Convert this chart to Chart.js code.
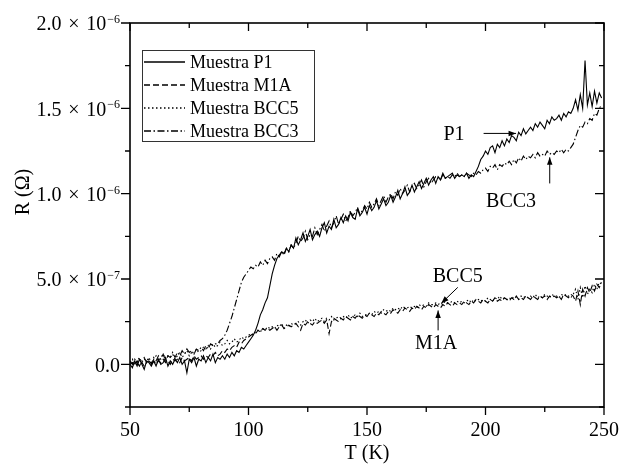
<!DOCTYPE html>
<html>
<head>
<meta charset="utf-8">
<script src="https://cdn.jsdelivr.net/npm/chart.js@4"></script>
<style>
  html, body { margin: 0; padding: 0; background: #fff; }
  #wrap { width: 623px; height: 471px; }
</style>
</head>
<body>
<div id="wrap"><canvas id="myChart" width="623" height="471"></canvas></div>
<script>
// temperature (K)
const temps = [
  50,51,52,53,54,55,56,57,58,59, 60,61,62,63,64,65,66,67,68,69,
  70,71,72,73,74,75,76,77,78,79, 80,81,82,83,84,85,86,87,88,89,
  90,91,92,93,94,95,96,97,98,99, 100,101,102,103,104,105,106,107,108,109,
  110,111,112,113,114,115,116,117,118,119, 120,121,122,123,124,125,126,127,128,129,
  130,131,132,133,134,135,136,137,138,139, 140,141,142,143,144,145,146,147,148,149,
  150,151,152,153,154,155,156,157,158,159, 160,161,162,163,164,165,166,167,168,169,
  170,171,172,173,174,175,176,177,178,179, 180,181,182,183,184,185,186,187,188,189,
  190,191,192,193,194,195,196,197,198,199, 200,201,202,203,204,205,206,207,208,209,
  210,211,212,213,214,215,216,217,218,219, 220,221,222,223,224,225,226,227,228,229,
  230,231,232,233,234,235,236,237,238,239, 240,241,242,243,244,245,246,247,248,249];

// resistance, in units of 1e-8 Ohm
const rP1 = [
  0,-2,2,-1,3,0,-3,2,1,-1, 2,-1,3,0,1,4,-1,2,0,3,
  1,4,0,2,-5,3,1,4,-1,3, 2,5,1,4,2,6,1,4,3,5,
  3,6,4,7,5,8,7,10,9,11, 13,15,17,20,24,29,32,36,39,46,
  53,58,62,64,66,65,68,66,70,68, 74,70,73,77,72,75,79,73,76,78,
  75,80,83,77,81,79,85,80,82,86, 83,87,84,89,86,85,91,87,89,92,
  88,93,90,92,96,91,94,97,93,95, 99,95,98,102,97,100,104,99,101,105,
  101,104,107,103,106,109,105,108,110,106, 110,108,112,109,110,111,112,109,111,110,
  111,110,112,109,111,110,113,116,120,122, 125,123,127,128,124,129,127,131,128,132,
  130,134,133,131,136,134,138,135,137,139, 137,141,139,142,140,138,143,141,145,143,
  144,146,143,147,145,148,147,150,155,149, 158,150,178,152,159,151,160,153,159,156];

const rM1A = [
  0,1,-1,2,0,1,-1,1,2,0, 2,0,2,1,3,1,2,0,3,2,
  3,1,4,2,3,4,2,5,3,4, 5,3,5,4,6,5,7,5,6,8,
  7,9,8,10,11,10,13,12,14,15, 16,17,18,18,20,19,21,20,21,20,
  21,22,20,22,23,21,22,23,22,23, 24,22,20,24,23,25,24,23,25,24,
  25,26,24,26,18,25,27,26,25,27, 26,28,27,26,28,27,29,28,27,29,
  28,30,29,28,30,29,31,30,29,31, 30,32,31,30,32,31,33,32,31,33,
  32,34,33,32,34,33,35,34,33,35, 34,33,35,34,36,35,34,36,35,36,
  35,37,36,35,37,36,38,37,36,38, 37,36,38,37,39,37,38,37,39,38,
  37,39,38,40,38,39,38,40,39,38, 40,39,38,40,39,40,38,40,39,40,
  39,40,38,41,40,39,41,40,37,43, 35,44,40,45,42,46,43,47,45,48];

const rBCC5 = [
  1,3,0,2,4,1,3,2,4,1, 3,5,2,4,6,3,5,4,6,3,
  5,7,4,6,8,5,7,6,9,7, 8,10,9,11,9,12,10,11,13,11,
  12,14,12,13,15,13,14,16,15,16, 17,18,17,19,20,19,21,20,22,21,
  22,21,23,22,24,21,23,22,24,23, 24,25,23,25,26,24,26,25,27,25,
  26,27,25,27,26,28,26,27,28,27, 28,27,29,27,28,29,28,30,28,29,
  29,30,29,31,30,31,30,32,31,32, 31,33,32,33,32,34,33,33,34,33,
  34,33,35,34,35,34,36,35,35,36, 35,36,35,37,36,36,37,36,37,36,
  37,36,37,38,36,38,37,38,37,38, 37,39,38,37,39,38,40,38,39,38,
  39,38,40,39,38,40,39,40,39,40, 39,41,39,40,39,41,40,39,41,40,
  40,39,41,40,41,40,39,41,44,38, 45,39,46,41,44,42,47,44,48,47];

const rBCC3 = [
  2,0,3,1,-1,2,4,1,3,0, 4,2,5,3,6,2,5,4,7,4,
  7,5,8,6,9,7,8,6,9,8, 10,8,11,9,12,11,12,12,14,15,
  17,20,24,28,33,38,43,48,51,53, 55,57,56,58,57,60,58,61,59,62,
  63,61,65,63,66,64,68,66,70,68, 71,75,72,74,78,73,76,75,80,76,
  79,82,78,81,84,80,83,87,82,85, 88,84,86,90,87,89,92,88,90,93,
  91,95,92,94,97,93,96,99,95,98, 100,97,101,99,103,100,102,105,101,104,
  106,103,105,108,104,107,109,106,108,110, 110,108,111,109,110,109,111,110,112,110,
  111,110,112,111,110,112,111,113,112,114, 115,113,116,115,117,114,117,116,118,117,
  119,117,120,118,121,119,122,120,122,121, 123,121,124,122,123,122,125,123,124,123,
  125,124,126,124,126,125,127,129,133,137, 140,139,142,141,144,143,147,146,150,152];

const seriesNames = ['Muestra P1', 'Muestra M1A', 'Muestra BCC5', 'Muestra BCC3'];
const seriesDash = [[], [6, 3], [1.5, 2.5], [7, 2.5, 1.5, 2.5]];

// y tick labels (value in 1e-8 Ohm, mantissa text, exponent)
const yTickValues = [0, 50, 100, 150, 200];
const yTickMain = ['0.0', '5.0 \u200a\u00d7\u200a 10', '1.0 \u200a\u00d7\u200a 10', '1.5 \u200a\u00d7\u200a 10', '2.0 \u200a\u00d7\u200a 10'];
const yTickExp = ['', '\u22127', '\u22126', '\u22126', '\u22126'];

// text annotations: label, label position (T, R), arrow from (T, R) to (T, R)
const annLabels = ['P1', 'BCC3', 'BCC5', 'M1A'];
const annPos = [[186.7, 135.3], [210.8, 96.1], [188.3, 52.1], [179.2, 12.9]];
const annArrows = [
  [[199.2, 135.3], [212.9, 135.3]],
  [[227.1, 106.0], [227.1, 121.3]],
  [[188.3, 45.1], [181.3, 35.7]],
  [[180.0, 19.9], [180.0, 31.6]]
];

const FONT = '"Liberation Serif", "Times New Roman", serif';
const allValues = [rP1, rM1A, rBCC5, rBCC3];

const datasets = allValues.map((vals, i) => ({
  label: seriesNames[i],
  data: temps.map((t, k) => ({ x: t, y: vals[k] })),
  borderColor: '#000',
  borderWidth: 1.1,
  borderDash: seriesDash[i],
  pointRadius: 0,
  tension: 0,
  fill: false
}));

function arrow(ctx, x1, y1, x2, y2) {
  const a = Math.atan2(y2 - y1, x2 - x1);
  ctx.beginPath();
  ctx.moveTo(x1, y1);
  ctx.lineTo(x2, y2);
  ctx.stroke();
  ctx.beginPath();
  ctx.moveTo(x2, y2);
  ctx.lineTo(x2 - 8 * Math.cos(a - 0.35), y2 - 8 * Math.sin(a - 0.35));
  ctx.lineTo(x2 - 8 * Math.cos(a + 0.35), y2 - 8 * Math.sin(a + 0.35));
  ctx.closePath();
  ctx.fill();
}

const framePlugin = {
  id: 'frame',
  afterDraw(chart) {
    const ctx = chart.ctx;
    const ca = chart.chartArea;
    const xs = chart.scales.x, ys = chart.scales.y;
    ctx.save();
    ctx.strokeStyle = '#000';
    ctx.fillStyle = '#000';
    ctx.setLineDash([]);

    // frame
    ctx.lineWidth = 1.6;
    ctx.strokeRect(ca.left, ca.top, ca.right - ca.left, ca.bottom - ca.top);

    // x ticks: bottom outward, top inward
    ctx.lineWidth = 1.3;
    for (let t = 50; t <= 250; t += 25) {
      const px = xs.getPixelForValue(t);
      const len = t % 50 === 0 ? 8 : 5;
      ctx.beginPath();
      ctx.moveTo(px, ca.bottom); ctx.lineTo(px, ca.bottom + len);
      ctx.moveTo(px, ca.top); ctx.lineTo(px, ca.top + len);
      ctx.stroke();
    }
    // y ticks: left outward, right inward
    for (let v = -25; v <= 200; v += 25) {
      const py = ys.getPixelForValue(v);
      const len = v % 50 === 0 ? 9 : 5;
      ctx.beginPath();
      ctx.moveTo(ca.left, py); ctx.lineTo(ca.left - len, py);
      ctx.moveTo(ca.right, py); ctx.lineTo(ca.right - len, py);
      ctx.stroke();
    }

    // y tick labels with superscript exponent
    ctx.textBaseline = 'middle';
    ctx.textAlign = 'right';
    yTickValues.forEach((v, i) => {
      const py = ys.getPixelForValue(v);
      let xr = ca.left - 10;
      if (yTickExp[i]) {
        ctx.font = '12px ' + FONT;
        ctx.fillText(yTickExp[i], xr, py - 3);
        xr -= ctx.measureText(yTickExp[i]).width + 1;
      }
      ctx.font = '20px ' + FONT;
      ctx.fillText(yTickMain[i], xr, py + 2);
    });

    // axis titles
    ctx.font = '20px ' + FONT;
    ctx.textAlign = 'center';
    ctx.fillText('T (K)', (ca.left + ca.right) / 2, 454);
    ctx.save();
    ctx.translate(24, 192);
    ctx.rotate(-Math.PI / 2);
    ctx.fillText('R (\u03a9)', 0, 0);
    ctx.restore();

    // legend
    const lx = ca.left + 12, ly = ca.top + 27;
    ctx.lineWidth = 1;
    ctx.strokeStyle = '#333';
    ctx.strokeRect(lx + 0.5, ly + 0.5, 172, 91);
    ctx.strokeStyle = '#000';
    ctx.textAlign = 'left';
    ctx.font = '18px ' + FONT;
    seriesNames.forEach((name, i) => {
      const ry = ly + 12 + i * 23;
      ctx.lineWidth = 1.4;
      ctx.setLineDash(seriesDash[i]);
      ctx.beginPath();
      ctx.moveTo(lx + 2, ry); ctx.lineTo(lx + 43, ry);
      ctx.stroke();
      ctx.setLineDash([]);
      ctx.fillText(name, lx + 48, ry + 1);
    });

    // annotations
    ctx.font = '20px ' + FONT;
    ctx.textAlign = 'center';
    ctx.lineWidth = 1;
    annLabels.forEach((lab, i) => {
      ctx.fillText(lab, xs.getPixelForValue(annPos[i][0]), ys.getPixelForValue(annPos[i][1]) + 1);
      const a = annArrows[i];
      arrow(ctx, xs.getPixelForValue(a[0][0]), ys.getPixelForValue(a[0][1]),
                 xs.getPixelForValue(a[1][0]), ys.getPixelForValue(a[1][1]));
    });
    ctx.restore();
  }
};

const ctx = document.getElementById('myChart').getContext('2d');
new Chart(ctx, {
  type: 'line',
  data: { datasets: datasets },
  options: {
    responsive: false,
    animation: false,
    events: [],
    layout: { padding: { left: 0, top: 23, right: 14, bottom: 0 } },
    plugins: { legend: { display: false }, tooltip: { enabled: false } },
    scales: {
      x: {
        type: 'linear', min: 50, max: 250,
        grid: { display: false, drawTicks: true, tickLength: 8 },
        border: { display: false },
        ticks: {
          stepSize: 50, padding: 4, color: '#000',
          font: { family: FONT, size: 20 },
          callback: v => String(v)
        },
        afterFit: s => { s.height = 64; }
      },
      y: {
        min: -25, max: 200,
        grid: { display: false },
        border: { display: false },
        ticks: { display: false, stepSize: 25 },
        afterFit: s => { s.width = 130; }
      }
    }
  },
  plugins: [framePlugin]
});
</script>
</body>
</html>
